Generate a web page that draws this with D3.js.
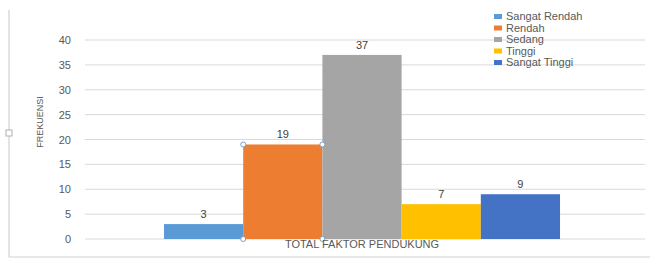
<!DOCTYPE html>
<html>
<head>
<meta charset="utf-8">
<script src="https://cdn.jsdelivr.net/npm/d3@7"></script>
<style>
  body { margin: 0; background: #fff; }
  svg { font-family: "Liberation Sans", Arial, sans-serif; }
</style>
</head>
<body>
<div id="chart"></div>
<script>
const categories = ["TOTAL FAKTOR PENDUKUNG"];
const seriesNames = ["Sangat Rendah", "Rendah", "Sedang", "Tinggi", "Sangat Tinggi"];
const seriesValues = [3, 19, 37, 7, 9];
const seriesColors = ["#5b9bd5", "#ed7d31", "#a5a5a5", "#ffc000", "#4472c4"];
const yTicks = [0, 5, 10, 15, 20, 25, 30, 35, 40];

const width = 653, height = 262;
const svg = d3.select("#chart").append("svg").attr("width", width).attr("height", height);

// outer frame (left and bottom edges)
svg.append("line").attr("x1", 9).attr("x2", 9).attr("y1", 10).attr("y2", 257).attr("stroke", "#c8c8c8");
svg.append("line").attr("x1", 9).attr("x2", 650).attr("y1", 257).attr("y2", 257).attr("stroke", "#d0d0d0");
svg.append("rect").attr("x", 6).attr("y", 130).attr("width", 6).attr("height", 6).attr("fill", "#fff").attr("stroke", "#b0b0b0");

const y = d3.scaleLinear().domain([0, 40]).range([239, 40]);
const x0 = d3.scaleBand().domain(categories).range([82, 642]).paddingOuter(0.207);
const bandX = d3.scaleBand().domain(seriesNames).range([x0(categories[0]), x0(categories[0]) + x0.bandwidth()]);

// gridlines
svg.append("g").selectAll("line").data(yTicks).join("line")
  .attr("x1", 85).attr("x2", 645)
  .attr("y1", d => y(d)).attr("y2", d => y(d))
  .attr("stroke", "#d9d9d9");

// y axis tick labels
svg.append("g").selectAll("text").data(yTicks).join("text")
  .attr("x", 71).attr("y", d => y(d) + 4)
  .attr("text-anchor", "end").attr("font-size", 11).attr("fill", "#595959")
  .text(d => d);

// y axis title
svg.append("text").attr("transform", "translate(43,122) rotate(-90)")
  .attr("text-anchor", "middle").attr("font-size", 9).attr("fill", "#595959")
  .text("FREKUENSI");

// bars
const data = seriesNames.map((n, i) => ({ name: n, value: seriesValues[i], color: seriesColors[i] }));

svg.append("g").selectAll("rect").data(data).join("rect")
  .attr("x", d => bandX(d.name)).attr("width", bandX.bandwidth())
  .attr("y", d => y(d.value)).attr("height", d => y(0) - y(d.value))
  .attr("fill", d => d.color);

// data labels
svg.append("g").selectAll("text").data(data).join("text")
  .attr("x", d => bandX(d.name) + bandX.bandwidth() / 2)
  .attr("y", d => y(d.value) - 6)
  .attr("text-anchor", "middle").attr("font-size", 11).attr("fill", "#404040")
  .text(d => d.value);

// selection handles on the "Rendah" bar
const sel = data[1];
const hx = [bandX(sel.name), bandX(sel.name) + bandX.bandwidth()];
const hy = [y(sel.value), y(0)];
hx.forEach(px => hy.forEach(py => {
  svg.append("circle").attr("cx", px).attr("cy", py).attr("r", 2.5)
    .attr("fill", "#fff").attr("stroke", "#7f9fbf");
}));

// category label
svg.append("text").attr("x", x0(categories[0]) + x0.bandwidth() / 2).attr("y", 248)
  .attr("text-anchor", "middle").attr("font-size", 11).attr("fill", "#595959")
  .text(categories[0]);

// legend
const legend = svg.append("g").selectAll("g").data(data).join("g")
  .attr("transform", (d, i) => `translate(494,${17 + i * 11.5})`);
legend.append("rect").attr("x", 0).attr("y", -3).attr("width", 8).attr("height", 5).attr("fill", d => d.color);
legend.append("text").attr("x", 12).attr("y", 3).attr("font-size", 11).attr("fill", "#595959").text(d => d.name);
</script>
</body>
</html>
